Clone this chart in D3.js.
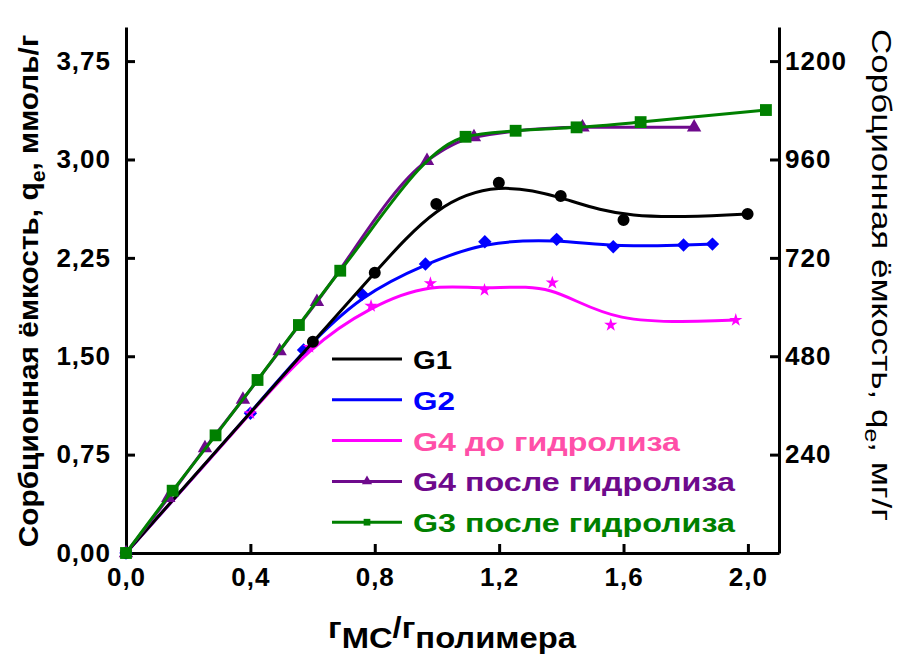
<!DOCTYPE html>
<html>
<head>
  <meta charset="utf-8">
  <title>Сорбционная ёмкость</title>
  <script src="https://d3js.org/d3.v7.min.js"></script>
  <style>
    body { margin: 0; background: #fff; }
    text { font-family: "Liberation Sans", Arial, sans-serif; }
  </style>
</head>
<body>
  <script type="text/javascript">

    // x - г МС / г полимера, y - q_e, ммоль/г
    var g1X  = [0, 0.601, 0.800, 0.998, 1.199, 1.398, 1.600, 1.999];
    var g1Y  = [0, 1.610, 2.137, 2.660, 2.822, 2.721, 2.538, 2.584];
    var g2X  = [0, 0.400, 0.571, 0.759, 0.963, 1.154, 1.385, 1.567, 1.793, 1.886];
    var g2Y  = [0, 1.065, 1.547, 1.972, 2.203, 2.373, 2.391, 2.335, 2.348, 2.355];
    var g4aX = [0, 0.400, 0.590, 0.788, 0.979, 1.153, 1.371, 1.559, 1.961];
    var g4aY = [0, 1.065, 1.570, 1.883, 2.056, 2.005, 2.060, 1.738, 1.776];
    var g4bX = [0, 0.136, 0.254, 0.376, 0.494, 0.614, 0.968, 1.119, 1.468, 1.827];
    var g4bY = [0, 0.420, 0.800, 1.170, 1.540, 1.915, 2.990, 3.170, 3.245, 3.245];
    var g3X  = [0, 0.150, 0.288, 0.423, 0.556, 0.689, 1.092, 1.253, 1.449, 1.655, 2.058];
    var g3Y  = [0, 0.475, 0.897, 1.319, 1.738, 2.152, 3.173, 3.219, 3.245, 3.285, 3.377];

    var xTicks = [0, 0.4, 0.8, 1.2, 1.6, 2.0];
    var yTicks = [0, 0.75, 1.5, 2.25, 3.0, 3.75];
    var y2Ticks = [240, 480, 720, 960, 1200];
    var mgPerMmol = 320;   // right axis = left axis * 320

    var legendNames = ["G1", "G2", "G4 до гидролиза", "G4 после гидролиза", "G3 после гидролиза"];
    var legendWidths = [39, 42, 267, 322, 322];

    var W = 899, H = 657;
    var m = {left: 126, top: 27, right: 120, bottom: 104};
    var w = W - m.left - m.right, h = H - m.top - m.bottom;

    var svg = d3.select("body").append("svg")
      .attr("width", W).attr("height", H);
    var g = svg.append("g").attr("transform", "translate(" + m.left + "," + m.top + ")");

    var x = d3.scaleLinear().domain([0, 2.1]).range([0, w]);
    var y = d3.scaleLinear().domain([0, 4.01]).range([h, 0]);
    var y2 = d3.scaleLinear().domain([0, 4.01 * mgPerMmol]).range([h, 0]);

    var comma = function (f) { return function (d) { return d3.format(f)(d).replace(".", ","); }; };

    function styleAxis(sel) {
      sel.selectAll("path").attr("stroke", "#000").attr("stroke-width", 3);
      sel.selectAll("line").attr("stroke", "#000").attr("stroke-width", 3);
      sel.selectAll("text").attr("font-size", 26).attr("font-weight", "bold")
        .attr("letter-spacing", 1).attr("fill", "#000");
    }

    g.append("g").attr("transform", "translate(0," + h + ")")
      .call(d3.axisBottom(x).tickValues(xTicks).tickFormat(comma(".1f"))
        .tickSize(-9).tickSizeOuter(0).tickPadding(15))
      .call(styleAxis);
    g.append("g")
      .call(d3.axisLeft(y).tickValues(yTicks).tickFormat(comma(".2f"))
        .tickSize(-9).tickSizeOuter(0).tickPadding(15))
      .call(styleAxis);
    g.append("g").attr("transform", "translate(" + w + ",0)")
      .call(d3.axisRight(y2).tickValues(y2Ticks).tickFormat(d3.format("d"))
        .tickSize(-9).tickSizeOuter(0).tickPadding(6))
      .call(styleAxis);

    // series, drawn back to front
    var series = [
      {xs: g2X,  ys: g2Y,  color: "#0000ff", sym: d3.symbolSquare,   size: 90,  rot: 45, curve: d3.curveBasis},
      {xs: g4aX, ys: g4aY, color: "#ff00ff", sym: d3.symbolStar,     size: 55,  rot: 0,  curve: d3.curveBasis},
      {xs: g1X,  ys: g1Y,  color: "#000000", sym: d3.symbolCircle,   size: 113, rot: 0,  curve: d3.curveBasis},
      {xs: g4bX, ys: g4bY, color: "#6e0a8c", sym: d3.symbolTriangle, size: 90,  rot: 0,  curve: d3.curveMonotoneX},
      {xs: g3X,  ys: g3Y,  color: "#008000", sym: d3.symbolSquare,   size: 140, rot: 0,  curve: d3.curveMonotoneX}
    ];

    series.forEach(function (s) {
      var pts = s.xs.map(function (v, i) { return [v, s.ys[i]]; });
      var line = d3.line().x(function (d) { return x(d[0]); }).y(function (d) { return y(d[1]); }).curve(s.curve);
      g.append("path").datum(pts)
        .attr("d", line).attr("fill", "none")
        .attr("stroke", s.color).attr("stroke-width", 3);
      g.selectAll(null).data(pts).enter().append("path")
        .attr("d", d3.symbol().type(s.sym).size(s.size))
        .attr("transform", function (d) {
          return "translate(" + x(d[0]) + "," + y(d[1]) + ") rotate(" + s.rot + ")";
        })
        .attr("fill", s.color);
    });

    // legend
    var legColors = ["#000000", "#0000ff", "#ff00ff", "#6e0a8c", "#008000"];
    var legText = ["#000000", "#0000ff", "#ff4fa8", "#6e0a8c", "#008000"];
    var legSym = [null, null, null, d3.symbolTriangle, d3.symbolSquare];
    var leg = svg.append("g").attr("transform", "translate(332,359)");
    legendNames.forEach(function (name, i) {
      var row = leg.append("g").attr("transform", "translate(0," + (i * 40.8) + ")");
      row.append("line").attr("x1", 0).attr("x2", 70).attr("y1", 0).attr("y2", 0)
        .attr("stroke", legColors[i]).attr("stroke-width", 3);
      if (legSym[i]) {
        row.append("path").attr("d", d3.symbol().type(legSym[i]).size(45))
          .attr("transform", "translate(35,0)").attr("fill", legColors[i]);
      }
      row.append("text").attr("x", 81).attr("y", 10)
        .attr("font-size", 26).attr("font-weight", "bold")
        .attr("textLength", legendWidths[i]).attr("lengthAdjust", "spacingAndGlyphs")
        .attr("fill", legText[i]).text(name);
    });

    // axis titles
    var yl = svg.append("text")
      .attr("transform", "translate(38,291) rotate(-90) scale(1.066,1)")
      .attr("text-anchor", "middle").attr("font-size", 28).attr("font-weight", "bold");
    yl.append("tspan").text("Сорбционная ёмкость, q");
    yl.append("tspan").attr("font-size", 20).attr("dy", 7).text("e");
    yl.append("tspan").attr("dy", -7).text(", ммоль/г");

    var yr = svg.append("text")
      .attr("transform", "translate(872,275) rotate(90) scale(1.25,1)")
      .attr("text-anchor", "middle").attr("font-size", 28);
    yr.append("tspan").text("Сорбционная ёмкость, q");
    yr.append("tspan").attr("font-size", 20).attr("dy", 7).text("e");
    yr.append("tspan").attr("dy", -7).text(", мг/г");

    var xl = svg.append("text")
      .attr("transform", "translate(452,638) scale(1.13,1)")
      .attr("text-anchor", "middle").attr("font-size", 29).attr("font-weight", "bold");
    xl.append("tspan").text("г");
    xl.append("tspan").attr("dy", 10).text("МС");
    xl.append("tspan").attr("dy", -10).text("/г");
    xl.append("tspan").attr("dy", 10).text("полимера");

  </script>
</body>
</html>
